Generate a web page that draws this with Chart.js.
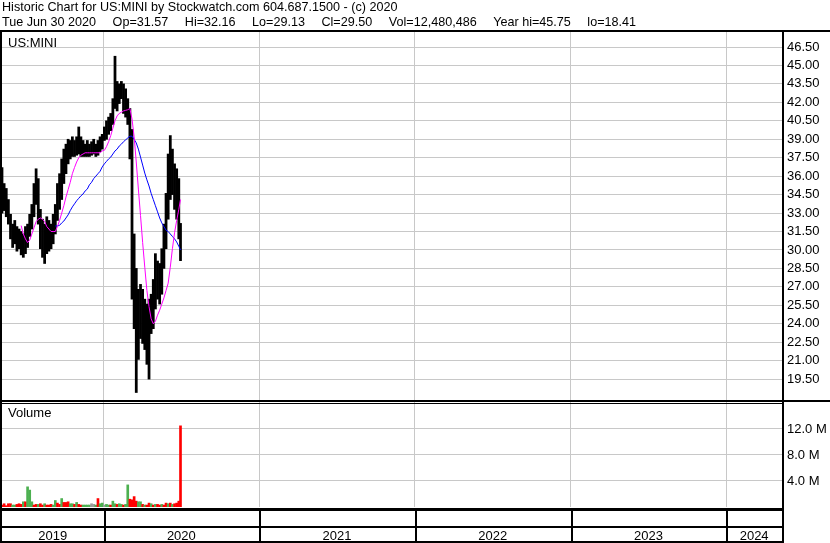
<!DOCTYPE html>
<html>
<head>
<meta charset="utf-8">
<title>Historic Chart for US:MINI</title>
<script src="https://cdn.jsdelivr.net/npm/chart.js@4.4.1/dist/chart.umd.min.js"></script>
<style>
  html, body { margin: 0; padding: 0; background: #fff; }
  canvas { display: block; }
</style>
</head>
<body>
<canvas id="chart" width="830" height="543"></canvas>
<script>
// price bars, one every 5 calendar days
const dates = [
  "2019-05-08", "2019-05-13", "2019-05-18", "2019-05-23", "2019-05-28",
  "2019-06-02", "2019-06-07", "2019-06-12", "2019-06-17", "2019-06-22", "2019-06-27",
  "2019-07-02", "2019-07-07", "2019-07-12", "2019-07-17", "2019-07-22", "2019-07-27",
  "2019-08-01", "2019-08-06", "2019-08-11", "2019-08-16", "2019-08-21", "2019-08-26", "2019-08-31",
  "2019-09-05", "2019-09-10", "2019-09-15", "2019-09-20", "2019-09-25", "2019-09-30",
  "2019-10-05", "2019-10-10", "2019-10-15", "2019-10-20", "2019-10-25", "2019-10-30",
  "2019-11-04", "2019-11-09", "2019-11-14", "2019-11-19", "2019-11-24", "2019-11-29",
  "2019-12-04", "2019-12-09", "2019-12-14", "2019-12-19", "2019-12-24", "2019-12-29",
  "2020-01-03", "2020-01-08", "2020-01-13", "2020-01-18", "2020-01-23", "2020-01-28",
  "2020-02-02", "2020-02-07", "2020-02-12", "2020-02-17", "2020-02-22", "2020-02-27",
  "2020-03-03", "2020-03-08", "2020-03-13", "2020-03-18", "2020-03-23", "2020-03-28",
  "2020-04-02", "2020-04-07", "2020-04-12", "2020-04-17", "2020-04-22", "2020-04-27",
  "2020-05-02", "2020-05-07", "2020-05-12", "2020-05-17", "2020-05-22", "2020-05-27",
  "2020-06-01", "2020-06-06", "2020-06-11", "2020-06-16", "2020-06-21", "2020-06-26",
  "2020-06-30"
];

const highs = [
  36.7, 35.4, 35.0, 34.1, 32.9, 32.1, 32.4, 31.9, 31.7, 31.5,
  31.3, 31.9, 32.1, 32.9, 33.7, 35.4, 36.6, 35.8, 33.3, 32.5,
  32.1, 32.7, 32.4, 32.1, 32.9, 33.7, 35.4, 36.2, 37.4, 38.2,
  38.6, 39.0, 38.9, 39.2, 38.9, 39.2, 40.0, 39.2, 38.9, 38.6,
  38.9, 38.6, 38.8, 39.0, 38.6, 38.9, 39.2, 39.4, 40.0, 40.5,
  40.8, 41.1, 42.3, 45.75, 43.7, 43.5, 43.7, 43.5, 43.1, 42.3,
  41.5, 39.8, 31.3, 28.5, 26.8, 27.2, 26.8, 26.0, 25.6, 26.0,
  26.4, 27.6, 29.7, 29.1, 28.9, 30.1, 32.1, 34.6, 37.8, 39.3,
  38.2, 37.0, 36.6, 35.8, 32.16
];

const lows = [
  33.0, 33.2, 32.7, 32.1, 30.9, 30.2, 30.5, 29.9, 30.1, 29.6,
  29.4, 29.7, 30.2, 31.1, 31.7, 32.7, 33.7, 32.1, 30.1, 29.4,
  28.9, 29.7, 29.9, 30.1, 30.5, 31.3, 32.4, 33.3, 34.1, 35.4,
  36.2, 37.0, 37.4, 37.6, 37.6, 37.7, 37.8, 37.6, 37.6, 37.6,
  37.6, 37.6, 37.7, 37.8, 37.6, 37.7, 38.0, 38.2, 38.9, 39.0,
  39.4, 39.7, 40.2, 41.5, 41.3, 41.9, 42.3, 41.1, 40.8, 40.2,
  37.4, 26.0, 23.6, 18.41, 21.1, 22.8, 22.4, 21.9, 20.7, 19.5,
  23.2, 23.6, 25.2, 26.0, 25.6, 26.4, 28.5, 30.1, 32.5, 34.1,
  34.5, 33.3, 32.5, 30.9, 29.13
];

// magenta (short) and blue (long) moving averages, as drawn
const maShort = [
  null, null, null, null, null, null, null, null, null, 31.98,
  31.3, 30.9, 30.6, 30.8, 31.3, 31.8, 32.3, 32.5, 32.6, 32.5,
  32.3, 31.9, 31.7, 31.5, 31.5, 31.5, 31.9, 32.4, 33.0, 33.6,
  34.3, 34.9, 35.5, 36.2, 36.7, 37.15, 37.5, 37.7, 37.8, 37.9,
  37.9, 37.9, 37.9, 37.9, 37.9, 37.9, 37.9, 38.05, 38.1, 38.4,
  38.8, 39.3, 39.9, 40.5, 40.9, 41.1, 41.2, 41.3, 41.35, 41.4,
  41.5, 40.65, 39.2, 37.15, 34.95, 32.8, 30.6, 28.6, 26.7, 25.4,
  24.4, 24.0, 24.2, 24.7, 25.1, 25.6, 26.1, 26.7, 27.3, 28.6,
  30.1, 31.4, 32.4, 33.3, 34.1
];

const maLong = [
  null, null, null, null, null, null, null, null, null, null,
  null, null, null, null, null, null, null, null, null, null,
  null, null, null, null, null, 31.95, 31.95, 32.0, 32.2, 32.35,
  32.6, 32.85, 33.2, 33.5, 33.75, 34.0, 34.2, 34.4, 34.55, 34.8,
  34.95, 35.3, 35.5, 35.8, 36.0, 36.2, 36.4, 36.75, 37.0, 37.2,
  37.4, 37.55, 37.8, 38.05, 38.2, 38.45, 38.6, 38.8, 38.95, 39.1,
  39.25, 39.25, 39.0, 38.7, 38.2, 37.55, 36.9, 36.25, 35.7, 35.2,
  34.6, 34.1, 33.6, 33.1, 32.6, 32.2, 31.9, 31.6, 31.5, 31.3,
  31.1, 30.9, 30.65, 30.3, 30.0
];

const volumes = [
  300000, 500000, 200000, 500000, 500000, 300000, 300000, 400000, 500000, 400000,
  800000, 800000, 3100000, 2600000, 800000, 300000, 400000, 400000, 500000, 300000,
  500000, 300000, 300000, 400000, 300000, 1000000, 600000, 400000, 1300000, 700000,
  700000, 800000, 500000, 500000, 400000, 700000, 400000, 300000, 300000, 300000,
  300000, 300000, 500000, 400000, 300000, 1300000, 500000, 600000, 300000, 400000,
  300000, 300000, 900000, 500000, 400000, 500000, 400000, 300000, 400000, 3400000,
  1200000, 1100000, 1600000, 900000, 800000, 800000, 400000, 300000, 300000, 600000,
  500000, 300000, 400000, 400000, 300000, 400000, 300000, 600000, 500000, 600000,
  400000, 500000, 600000, 900000, 12480486
];

// 1 = up day, -1 = down day, 0 = unchanged
const volDir = [
  -1, -1, -1, -1, -1, 1, 1, -1, -1, -1,
  1, -1, 1, 1, 1, -1, -1, 1, -1, -1,
  1, -1, -1, -1, 1, 1, -1, -1, 1, -1,
  -1, -1, 1, 1, -1, 1, -1, -1, 1, 1,
  1, 1, 0, 0, 1, -1, 1, 1, 0, 1,
  1, -1, 1, 1, -1, 1, 1, -1, 1, 1,
  -1, -1, -1, -1, 1, 1, -1, 1, -1, -1,
  1, -1, 1, -1, -1, 1, -1, -1, 1, -1,
  1, -1, -1, -1, -1
];

const priceTicks = [19.5, 21, 22.5, 24, 25.5, 27, 28.5, 30, 31.5, 33, 34.5, 36, 37.5, 39, 40.5, 42, 43.5, 45, 46.5];
const volTicks = [4000000, 8000000, 12000000];
const yearStarts = [2020, 2021, 2022, 2023, 2024];
const yearLabels = ["2019", "2020", "2021", "2022", "2023", "2024"];

const symbol = "US:MINI";
const lastOpen = 31.57;
const lastClose = 29.5;

const X_MIN = 2019.348;
const X_MAX = 2024.358;
const FONT = '"Liberation Sans", Arial, sans-serif';
const GRID = "#c8c8c8";

function yearFraction(s) {
  const d = new Date(s + "T00:00:00Z");
  const y = d.getUTCFullYear();
  const start = Date.UTC(y, 0, 1);
  const end = Date.UTC(y + 1, 0, 1);
  return y + (d.getTime() - start) / (end - start);
}

function quoteDate(s) {
  const d = new Date(s + "T00:00:00Z");
  const days = ["Sun", "Mon", "Tue", "Wed", "Thu", "Fri", "Sat"];
  const months = ["Jan", "Feb", "Mar", "Apr", "May", "Jun", "Jul", "Aug", "Sep", "Oct", "Nov", "Dec"];
  return `${days[d.getUTCDay()]} ${months[d.getUTCMonth()]} ${d.getUTCDate()} ${d.getUTCFullYear()}`;
}

const xs = dates.map(yearFraction);
const last = dates.length - 1;

// mid points of each visible year, for the labels in the bottom row
const yearMids = yearLabels.map((_, i) => {
  const a = i === 0 ? X_MIN : yearStarts[i - 1];
  const b = i < yearStarts.length ? yearStarts[i] : X_MAX;
  return (a + b) / 2;
});

const titleLine = `Historic Chart for ${symbol} by Stockwatch.com 604.687.1500 - (c) ${dates[last].slice(0, 4)}`;
const quoteFields = [
  quoteDate(dates[last]),
  `Op=${lastOpen.toFixed(2)}`,
  `Hi=${highs[last].toFixed(2)}`,
  `Lo=${lows[last].toFixed(2)}`,
  `Cl=${lastClose.toFixed(2)}`,
  `Vol=${volumes[last].toLocaleString("en-US")}`,
  `Year hi=${Math.max(...highs).toFixed(2)}`,
  `lo=${Math.min(...lows).toFixed(2)}`
];

const frame = {
  id: "frame",
  beforeDraw(chart) {
    const ctx = chart.ctx;
    ctx.save();
    ctx.fillStyle = "#fff";
    ctx.fillRect(0, 0, chart.width, chart.height);
    ctx.restore();
  },
  afterDraw(chart) {
    const { ctx, chartArea: a, scales } = chart;
    const W = chart.width, H = chart.height;
    ctx.save();
    ctx.fillStyle = "#000";
    ctx.textBaseline = "middle";

    // header: title, then quote fields spread out to x=636 like the original
    ctx.font = `12.6px ${FONT}`;
    ctx.fillText(titleLine, 2, 8);
    const widths = quoteFields.map((t) => ctx.measureText(t).width);
    const gap = (634 - widths.reduce((s, w) => s + w, 0)) / (quoteFields.length - 1);
    let qx = 2;
    quoteFields.forEach((t, i) => {
      ctx.fillText(t, qx, 23);
      qx += widths[i] + gap;
    });

    ctx.font = `13px ${FONT}`;
    ctx.fillText(symbol, 8, 43);
    ctx.fillText("Volume", 8, 413);

    // header rule, outer left edge, axis edge
    ctx.fillRect(0, 30, W, 2);
    ctx.fillRect(0, 30, 2, H - 30);
    ctx.fillRect(a.right, 30, 2, H - 30);

    // split between price and volume panels
    const split = Math.round(scales.y.bottom);
    ctx.fillRect(0, split - 1, W, 2);
    ctx.fillRect(0, split + 2, a.right, 1);

    // bottom rows
    const b = Math.round(a.bottom);
    ctx.fillRect(0, b + 1, a.right + 2, 3);
    ctx.fillRect(0, 526, a.right + 2, 2);
    ctx.fillRect(0, H - 2, a.right + 2, 2);
    yearStarts.forEach((v) => {
      const px = Math.round(scales.x.getPixelForValue(v));
      ctx.fillRect(px, b + 1, 2, H - b - 1);
    });
    ctx.restore();
  }
};

new Chart(document.getElementById("chart"), {
  type: "bar",
  data: {
    datasets: [
      {
        type: "line",
        data: xs.map((x, i) => ({ x, y: maShort[i] })),
        borderColor: "#ff00ff",
        borderWidth: 1,
        pointRadius: 0,
        yAxisID: "y",
        order: 0
      },
      {
        type: "line",
        data: xs.map((x, i) => ({ x, y: maLong[i] })),
        borderColor: "#0000ff",
        borderWidth: 1,
        pointRadius: 0,
        yAxisID: "y",
        order: 1
      },
      {
        data: xs.map((x, i) => ({ x, y: [lows[i], highs[i]] })),
        backgroundColor: "#000",
        barThickness: 2.1,
        grouped: false,
        yAxisID: "y",
        order: 2
      },
      {
        data: xs.map((x, i) => ({ x, y: volumes[i] })),
        backgroundColor: volDir.map((d) => (d > 0 ? "#4cb050" : d < 0 ? "#ff0000" : "#9a9a9a")),
        barThickness: 2,
        grouped: false,
        yAxisID: "yVol",
        order: 3
      }
    ]
  },
  options: {
    responsive: false,
    animation: false,
    events: [],
    layout: { padding: { top: 32, left: 2, right: 0, bottom: 0 } },
    plugins: { legend: { display: false }, tooltip: { enabled: false } },
    scales: {
      x: {
        type: "linear",
        min: X_MIN,
        max: X_MAX,
        offset: false,
        position: "bottom",
        afterBuildTicks: (axis) => { axis.ticks = yearStarts.map((v) => ({ value: v })); },
        afterFit: (axis) => { axis.height = 0; },
        ticks: { display: false },
        grid: { color: GRID, drawTicks: false, offset: false },
        border: { display: false }
      },
      xYear: {
        type: "linear",
        min: X_MIN,
        max: X_MAX,
        offset: false,
        position: "bottom",
        afterBuildTicks: (axis) => { axis.ticks = yearMids.map((v) => ({ value: v })); },
        afterFit: (axis) => { axis.height = 36; },
        ticks: {
          autoSkip: false,
          maxRotation: 0,
          padding: 22,
          color: "#000",
          font: { family: FONT, size: 13 },
          callback: (v, i) => yearLabels[i]
        },
        grid: { display: false, drawTicks: false, offset: false },
        border: { display: false }
      },
      y: {
        type: "linear",
        position: "right",
        stack: "panels",
        stackWeight: 369,
        min: 17.72,
        max: 47.72,
        afterBuildTicks: (axis) => { axis.ticks = priceTicks.map((v) => ({ value: v })); },
        afterFit: (axis) => { axis.width = 48; },
        ticks: {
          autoSkip: false,
          padding: 5,
          color: "#000",
          font: { family: FONT, size: 13 },
          callback: (v) => v.toFixed(2)
        },
        grid: { color: GRID, drawTicks: false },
        border: { display: false }
      },
      yVol: {
        type: "linear",
        position: "right",
        stack: "panels",
        stackWeight: 106,
        min: 0,
        max: 16300000,
        afterBuildTicks: (axis) => { axis.ticks = volTicks.map((v) => ({ value: v })); },
        afterFit: (axis) => { axis.width = 48; },
        ticks: {
          autoSkip: false,
          padding: 5,
          color: "#000",
          font: { family: FONT, size: 13 },
          callback: (v) => (v / 1000000).toFixed(1) + " M"
        },
        grid: { color: GRID, drawTicks: false },
        border: { display: false }
      }
    }
  },
  plugins: [frame]
});
</script>
</body>
</html>
